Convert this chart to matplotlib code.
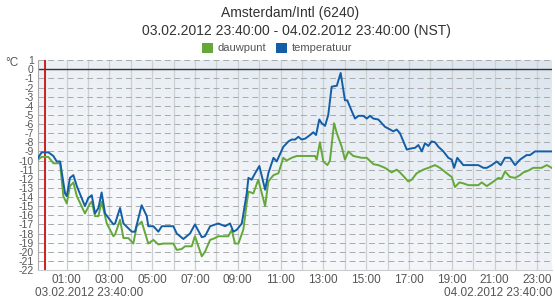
import matplotlib
matplotlib.use("Agg")
import matplotlib.pyplot as plt
import numpy as np
from matplotlib.patches import Patch
from matplotlib.colors import LinearSegmentedColormap
from matplotlib import font_manager

# ---------------- data (hours relative to 04.02.2012 00:00) ----------------
temp_hours = [-0.33, -0.16, 0.15, 0.385, 0.54, 0.70, 0.93, 1.01, 1.16, 1.32, 1.48, 1.86,
              2.02, 2.18, 2.33, 2.49, 2.64, 2.80, 3.19, 3.27, 3.50, 3.66, 4.05, 4.20,
              4.51, 4.75, 4.82, 5.06, 5.29, 5.45, 5.99, 6.15, 6.46, 6.77, 7.00, 7.32,
              7.47, 7.71, 8.09, 8.41, 8.64, 8.80, 8.95, 9.19, 9.42, 9.50, 9.65, 9.81,
              10.01, 10.28, 10.43, 10.67, 10.82, 11.13, 11.37, 11.52, 11.68, 11.83,
              11.99, 12.15, 12.38, 12.53, 12.66, 12.81, 12.92, 13.08, 13.23, 13.39,
              13.63, 13.81, 14.01, 14.12, 14.33, 14.48, 14.64, 14.87, 15.03, 15.18,
              15.34, 15.57, 15.88, 16.12, 16.27, 16.43, 16.58, 16.90, 17.05, 17.29,
              17.44, 17.60, 17.75, 17.91, 18.06, 18.22, 18.38, 18.61, 18.84, 19.00,
              19.11, 19.26, 19.54, 19.86, 20.24, 20.48, 20.64, 20.87, 21.10, 21.29,
              21.49, 21.72, 21.96, 22.19, 22.50, 22.66, 22.89, 23.67]
temp_values = [-9.7, -9.1, -9.1, -9.5, -10.1, -10.1, -13.6, -13.9, -11.9, -11.6, -12.8, -15.0,
               -14.1, -13.8, -15.8, -15.2, -13.5, -15.8, -17.0, -16.9, -15.2, -16.9, -17.8, -17.8,
               -14.9, -16.1, -17.2, -17.2, -17.8, -17.2, -17.2, -18.0, -18.6, -18.0, -17.0, -18.4,
               -18.3, -17.2, -16.9, -17.2, -16.9, -17.8, -17.6, -16.9, -13.6, -11.9, -12.1, -11.4,
               -10.6, -13.2, -11.4, -9.7, -10.1, -8.5, -7.9, -7.7, -7.7, -7.4,
               -7.7, -7.6, -7.2, -6.9, -7.2, -5.5, -5.9, -6.2, -5.0, -1.9,
               -1.8, -0.4, -3.4, -3.4, -4.6, -5.4, -5.1, -5.1, -5.4, -5.1,
               -5.4, -5.5, -6.3, -6.6, -6.8, -6.6, -7.0, -8.8, -8.7, -8.6,
               -8.3, -9.0, -8.1, -8.4, -7.9, -8.0, -8.5, -9.0, -9.7, -9.9,
               -10.8, -9.7, -10.5, -10.5, -10.5, -10.8, -10.8, -10.5, -10.1, -10.5,
               -9.7, -9.7, -10.5, -9.9, -9.4, -9.4, -9.0, -9.0]

dew_hours = [-0.33, -0.16, 0.15, 0.385, 0.70, 0.85, 1.01, 1.16, 1.32, 1.48, 1.86, 2.10,
             2.18, 2.33, 2.49, 2.64, 2.88, 3.19, 3.27, 3.50, 3.66, 3.89, 4.12, 4.28,
             4.51, 4.82, 5.06, 5.29, 5.52, 5.99, 6.15, 6.38, 6.54, 6.85, 7.00, 7.32,
             7.47, 7.71, 7.94, 8.09, 8.56, 8.72, 8.87, 9.03, 9.26, 9.42, 9.50, 9.73,
             9.96, 10.28, 10.43, 10.67, 10.90, 11.13, 11.29, 11.52, 11.76, 12.61,
             12.69, 12.84, 13.00, 13.19, 13.31, 13.50, 13.63, 13.86, 14.01, 14.17,
             14.40, 14.79, 15.03, 15.34, 15.57, 15.88, 16.19, 16.43, 16.58, 16.82,
             16.97, 17.13, 17.36, 17.67, 17.91, 18.22, 18.45, 18.77, 19.00, 19.15,
             19.36, 19.54, 19.78, 20.24, 20.40, 20.64, 20.95, 21.18, 21.33, 21.49,
             21.72, 21.96, 22.19, 22.35, 22.58, 22.81, 23.20, 23.44, 23.67]
dew_values = [-9.9, -9.6, -9.6, -10.3, -10.3, -13.9, -14.7, -12.8, -12.4, -13.9, -15.8, -14.7,
              -14.5, -16.1, -16.1, -14.5, -16.9, -18.3, -18.1, -16.5, -18.5, -18.5, -19.1, -17.2,
              -16.7, -19.1, -18.7, -19.2, -19.1, -19.1, -19.8, -19.7, -19.4, -19.4, -18.3, -20.5,
              -20.0, -18.7, -18.5, -18.3, -18.3, -17.6, -19.1, -19.1, -17.6, -14.7, -13.4, -13.6,
              -12.1, -15.0, -12.3, -11.6, -11.4, -9.7, -10.0, -9.7, -9.5, -9.5,
              -9.9, -8.0, -10.1, -10.5, -10.0, -5.9, -7.0, -8.5, -9.9, -9.0,
              -9.5, -9.7, -9.7, -10.4, -10.5, -10.8, -11.3, -11.0, -11.3, -11.9,
              -12.3, -12.1, -11.4, -11.0, -10.8, -10.5, -10.8, -11.4, -11.8, -12.9,
              -12.4, -12.5, -12.7, -12.7, -12.4, -12.8, -12.3, -11.9, -12.0, -11.2,
              -11.8, -11.9, -11.6, -11.3, -11.1, -10.8, -10.8, -10.5, -10.8]

x_tick_hours = list(range(1, 24, 2))
x_tick_labels = [f"{h:02d}:00" for h in x_tick_hours]
y_ticks = list(range(-22, 2))
series_names = ["dauwpunt", "temperatuur"]
title = "Amsterdam/Intl (6240)"
subtitle = "03.02.2012 23:40:00 - 04.02.2012 23:40:00 (NST)"
start_label = "03.02.2012 23:40:00"
end_label = "04.02.2012 23:40:00"
x_start, x_end = -1.0 / 3.0, 23.0 + 2.0 / 3.0

# ---------------- style ----------------
plt.rcParams["font.family"] = ["Liberation Sans", "DejaVu Sans"]
names = {f.name for f in font_manager.fontManager.ttflist}
narrow = "Liberation Sans Narrow" if "Liberation Sans Narrow" in names else "Liberation Sans"

col_temp = "#135ea6"
col_dew = "#64a83a"
txt = "#555555"

W, H = 555, 300
fig = plt.figure(figsize=(W / 100, H / 100), dpi=100)
fig.patch.set_facecolor("white")
ax = fig.add_axes([38 / W, 1 - 270 / H, (551.6 - 38) / W, (270 - 60.2) / H])

ax.set_xlim(x_start, x_end)
ax.set_ylim(-22, 1)

# background gradient
ny, nx = 100, 200
yy = np.linspace(1, 0, ny)[:, None]
xx = np.linspace(0, 1, nx)[None, :]
t = np.clip(0.55 * yy + 0.45 * xx, 0, 1)
cmap = LinearSegmentedColormap.from_list("bg", ["#ffffff", "#dce5ee"])
ax.imshow(t, extent=[x_start, x_end, -22, 1], aspect="auto", cmap=cmap,
          vmin=0, vmax=1, zorder=0, interpolation="bilinear")

# grid
for h in range(0, 24):
    ax.axvline(h, color="#cdd0d3", lw=0.9, zorder=1)
for v in y_ticks:
    if v == 0:
        ax.axhline(0, color="#333333", lw=1.0, zorder=2)
    else:
        ax.axhline(v, color="#a9a9a9", lw=0.7, ls=(0, (6, 4)), zorder=1)
ax.axvline(0, color="#cc1111", lw=1.3, zorder=3)

ax.plot(dew_hours, dew_values, color=col_dew, lw=1.4, zorder=4)
ax.plot(temp_hours, temp_values, color=col_temp, lw=1.4, zorder=5)

for s in ["top", "right"]:
    ax.spines[s].set_visible(False)
ax.spines["left"].set_color("#aaaaaa")
ax.spines["bottom"].set_color("#cccccc")
ax.spines["left"].set_linewidth(0.8)
ax.spines["bottom"].set_linewidth(0.8)

ax.set_yticks(y_ticks)
ax.set_yticklabels([str(v) for v in y_ticks], fontsize=7.5, color=txt, family=narrow)
ax.set_xticks(x_tick_hours)
ax.set_xticklabels(x_tick_labels, fontsize=8.5, color=txt)
ax.tick_params(axis="both", length=0)
ax.tick_params(axis="y", pad=3)
ax.tick_params(axis="x", pad=3)

fig.text(5 / W, 1 - 63 / H, "°C", fontsize=8.5, color=txt, va="center", ha="left")
fig.text(35 / W, 1 - 293 / H, start_label, fontsize=8.5, color=txt, va="center", ha="left")
fig.text(552 / W, 1 - 293 / H, end_label, fontsize=8.5, color=txt, va="center", ha="right")

fig.text(290 / W, 1 - 13 / H, title, fontsize=10, color="#333333", ha="center", va="center")
fig.text(296.7 / W, 1 - 30.5 / H, subtitle, fontsize=10, color="#333333", ha="center", va="center")

handles = [Patch(facecolor=col_dew, edgecolor="none"), Patch(facecolor=col_temp, edgecolor="none")]
leg = fig.legend(handles, series_names, loc="center", bbox_to_anchor=(277 / W, 1 - 48 / H),
                 ncol=2, frameon=False, fontsize=8, handlelength=1.0, handleheight=1.0,
                 handletextpad=0.4, columnspacing=0.9, borderpad=0)
for tx in leg.get_texts():
    tx.set_color(txt)

fig.savefig("out.png", dpi=100, facecolor="white")
